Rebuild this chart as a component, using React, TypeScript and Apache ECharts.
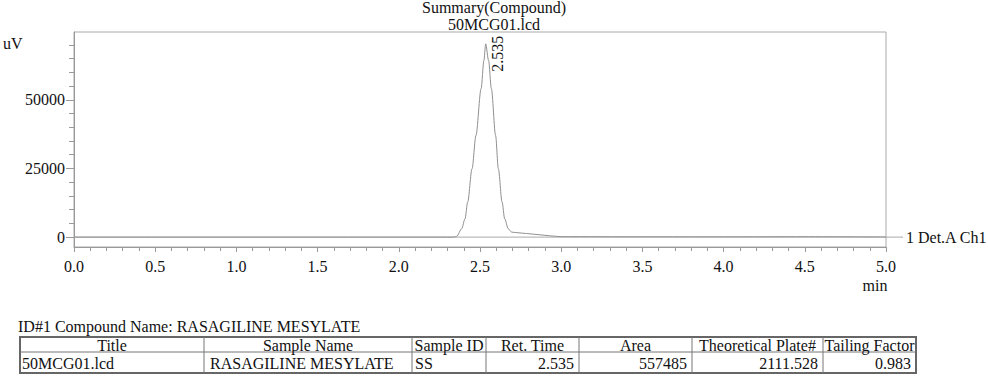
import React, { useEffect, useRef } from "react";
import * as echarts from "echarts";

// ---- chart data ----
const chartTitle = "Summary(Compound)";
const fileName = "50MCG01.lcd";
const yUnit = "uV";
const xUnit = "min";
const channelName = "1 Det.A Ch1";
const peakLabel = "2.535";
const peakTime = 2.535;
const peakHeight = 70400;

const retTimes = [
  0, 0.5, 1.0, 1.5, 2.0, 2.3, 2.34, 2.357, 2.387, 2.408, 2.424, 2.451, 2.475,
  2.507, 2.524, 2.535, 2.553, 2.57, 2.596, 2.613, 2.636, 2.652, 2.674, 2.695,
  2.74, 2.787, 2.869, 2.93, 3.0, 3.5, 4.0, 4.5, 5.0,
];
const signal = [
  0, 0, 0, 0, 0, 0, 0, 300, 3060, 6700, 12740, 24890, 37000, 54100, 64300,
  70400, 64300, 54100, 37000, 24890, 12740, 6700, 3060, 1820, 1550, 1310, 840,
  470, 150, 120, 100, 140, 60,
];

const yMajorTicks = [0, 25000, 50000];
const yMinorTicks = [5000, 10000, 15000, 20000, 30000, 35000, 40000, 45000, 55000, 60000, 65000, 70000];

const compoundHeading = "ID#1 Compound Name: RASAGILINE MESYLATE";
const tableHeaders = ["Title", "Sample Name", "Sample ID", "Ret. Time", "Area", "Theoretical Plate#", "Tailing Factor"];
const tableRow = ["50MCG01.lcd", "RASAGILINE MESYLATE", "SS", "2.535", "557485", "2111.528", "0.983"];

// ---- layout / style ----
const FONT = "'Liberation Serif', 'Times New Roman', serif";
const TXT = "#111";
const colEdges = [20, 204, 412, 486, 579, 692, 823, 916];
const rowAlign = ["left", "left", "left", "right", "right", "right", "right"];

export default function App() {
  const ref = useRef<HTMLDivElement>(null);

  useEffect(() => {
    if (!ref.current) return;
    const chart = echarts.init(ref.current, null, { renderer: "svg" });
    const data = retTimes.map((t, i) => [t, signal[i]]);
    const yMin = -3600;
    const yMax = 74700;

    chart.setOption({
      animation: false,
      backgroundColor: "#fff",
      grid: {
        left: 74,
        right: 102,
        top: 32,
        bottom: 133,
        show: true,
        borderColor: "#aaa",
        borderWidth: 1,
      },
      xAxis: {
        type: "value",
        min: 0,
        max: 5,
        interval: 0.5,
        axisLine: { show: true, onZero: false, lineStyle: { color: "#999", width: 1 } },
        axisTick: { show: true, length: 5, lineStyle: { color: "#999" } },
        minorTick: { show: true, splitNumber: 5, length: 4, lineStyle: { color: "#999" } },
        splitLine: { show: false },
        axisLabel: {
          formatter: (v: number) => v.toFixed(1),
          fontFamily: FONT,
          fontSize: 16,
          color: TXT,
          margin: 11,
        },
      },
      yAxis: [
        {
          type: "value",
          min: yMin,
          max: yMax,
          axisLine: { show: true, lineStyle: { color: "#999", width: 1 } },
          axisTick: { show: true, length: 8, customValues: yMajorTicks, lineStyle: { color: "#999" } },
          axisLabel: {
            customValues: yMajorTicks,
            formatter: (v: number) => String(v),
            fontFamily: FONT,
            fontSize: 16,
            color: TXT,
            margin: 9,
          },
          splitLine: { show: false },
        },
        {
          type: "value",
          min: yMin,
          max: yMax,
          position: "left",
          axisLine: { show: false },
          axisTick: { show: true, length: 5, customValues: yMinorTicks, lineStyle: { color: "#999" } },
          axisLabel: { show: false },
          splitLine: { show: false },
        },
      ],
      series: [
        {
          type: "line",
          data,
          yAxisIndex: 0,
          showSymbol: false,
          smooth: 0.3,
          smoothMonotone: "x",
          lineStyle: { color: "#8f8f8f", width: 1 },
        },
      ],
    });

    const y0 = chart.convertToPixel({ yAxisIndex: 0 }, 0) as number;
    const xL = chart.convertToPixel({ xAxisIndex: 0 }, 0) as number;
    const xR = chart.convertToPixel({ xAxisIndex: 0 }, 5) as number;
    const [px, py] = chart.convertToPixel({ gridIndex: 0 }, [peakTime, peakHeight]) as number[];

    const txt = (text: string, x: number, y: number, align: string, extra: any = {}) => ({
      type: "text",
      x,
      y,
      style: {
        text,
        fill: TXT,
        font: `16px ${FONT}`,
        align,
        verticalAlign: "middle",
        ...extra,
      },
    });

    const graphics: any[] = [];
    graphics.push(txt(chartTitle, 494, 7, "center"));
    graphics.push(txt(fileName, 494, 24, "center"));
    graphics.push(txt(yUnit, 3, 43, "left"));
    graphics.push(txt(xUnit, 875, 285, "center"));
    // peak retention-time label (rotated)
    graphics.push({
      type: "text",
      x: px + 12,
      y: py + 10,
      rotation: Math.PI / 2,
      style: {
        text: peakLabel,
        fill: TXT,
        font: `16px ${FONT}`,
        align: "center",
        verticalAlign: "middle",
      },
    });
    // baseline extended past frame
    graphics.push({
      type: "line",
      shape: { x1: xL, y1: y0, x2: xR + 17, y2: y0 },
      style: { stroke: "#aaa", lineWidth: 1 },
      z: 1,
    });
    graphics.push(txt(channelName, xR + 20, y0, "left"));

    // table
    const top = 337;
    const mid = 352;
    const bot = 373;
    graphics.push(txt(compoundHeading, 18, 326, "left"));
    graphics.push({
      type: "rect",
      shape: { x: colEdges[0], y: top, width: colEdges[colEdges.length - 1] - colEdges[0], height: bot - top },
      style: { fill: "none", stroke: "#666", lineWidth: 2 },
    });
    graphics.push({
      type: "line",
      shape: { x1: colEdges[0], y1: mid, x2: colEdges[colEdges.length - 1], y2: mid },
      style: { stroke: "#777", lineWidth: 1 },
    });
    for (let i = 1; i < colEdges.length - 1; i++) {
      graphics.push({
        type: "line",
        shape: { x1: colEdges[i], y1: top, x2: colEdges[i], y2: bot },
        style: { stroke: "#777", lineWidth: 1 },
      });
    }
    tableHeaders.forEach((h, i) => {
      graphics.push(txt(h, (colEdges[i] + colEdges[i + 1]) / 2, 345, "center"));
    });
    tableRow.forEach((v, i) => {
      const a = rowAlign[i];
      let x = colEdges[i] + 2;
      if (i === 1) x = colEdges[i] + 6;
      if (i === 2) x = colEdges[i] + 3;
      if (a === "right") x = colEdges[i + 1] - 5;
      graphics.push(txt(v, x, 363, a));
    });

    chart.setOption({ graphic: graphics });

    return () => chart.dispose();
  }, []);

  return (
    <div
      ref={ref}
      style={{ position: "fixed", left: 0, top: 0, width: 988, height: 380, background: "#fff" }}
    />
  );
}
